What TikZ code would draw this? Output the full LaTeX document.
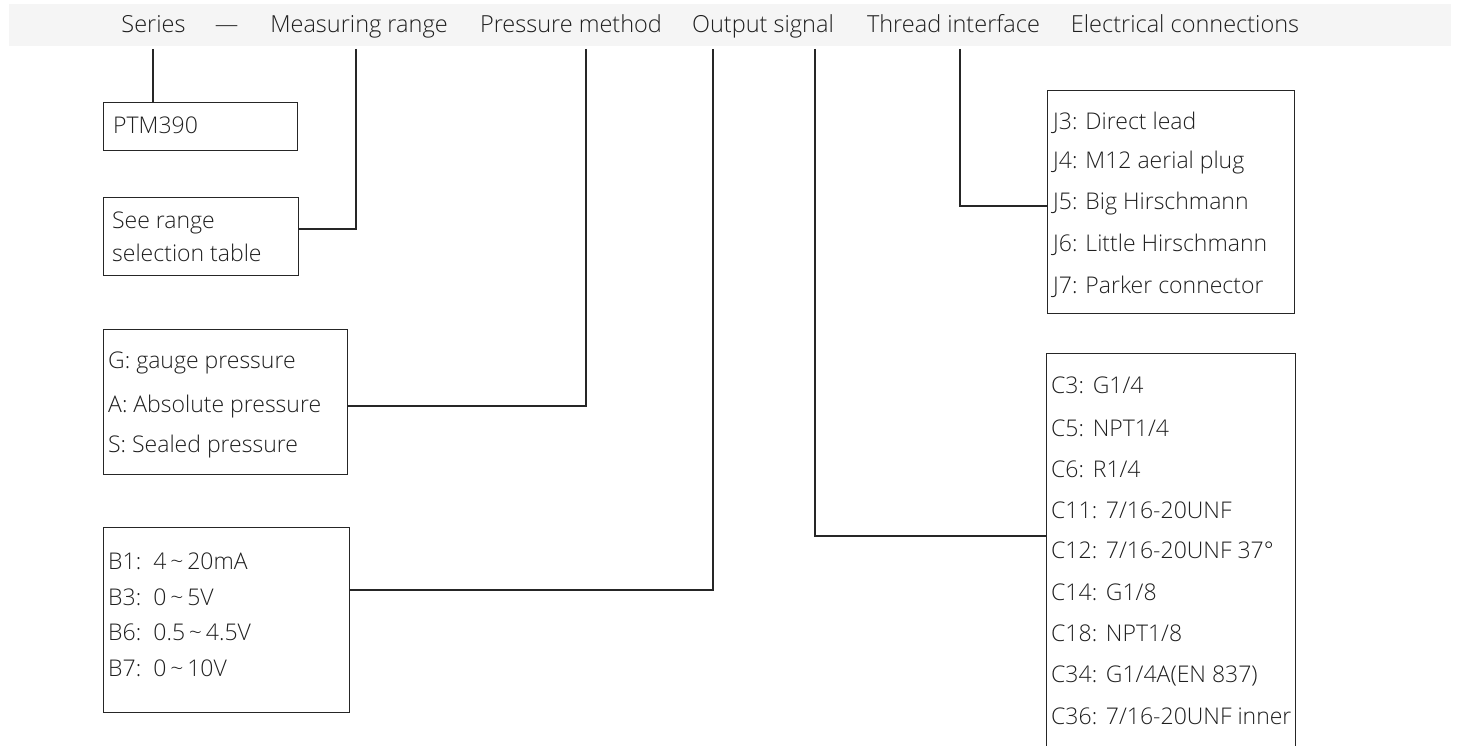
\documentclass[tikz,border=0pt]{standalone}
\usepackage{fontspec}
\setmainfont{Open Sans}[UprightFont={* Light}]
\newcommand{\fcol}{:\hspace{0.38em}}
\newcommand{\tld}{\,\textasciitilde\,}
\begin{document}
\begin{tikzpicture}[x=1pt,y=-1pt,
  txt/.style={anchor=base west,inner sep=0pt,font=\fontsize{23}{28}\selectfont,text=black!88},
  htxt/.style={anchor=base,inner sep=0pt,font=\fontsize{23.5}{28}\selectfont,text=black!88},
  box/.style={draw=black!85,line width=1.2pt,anchor=north west,inner sep=0pt},
  conn/.style={draw=black!85,line width=1.2pt}]
\useasboundingbox (0,0) rectangle (1458,746);
% header band
\node[fill=black!4,anchor=north west,inner sep=0pt,minimum width=1442pt,minimum height=42pt] (hdr) at (9,4) {};
\node[htxt] (hser) at (153.5,33) {Series};
\node[htxt] (hdash) at (226.5,33) {—};
\node[htxt] (hmr) at (359,33) {Measuring range};
\node[htxt] (hpm) at (571,33) {Pressure method};
\node[htxt] (hos) at (763,33) {Output signal};
\node[htxt] (hti) at (953.5,33) {Thread interface};
\node[htxt] (hec) at (1185,33) {Electrical connections};
% boxes
\node[box,minimum width=194pt,minimum height=48pt] (ptm) at (103,102) {};
\node[txt] (ptmt) at (113,134) {PTM390};
\node[box,minimum width=195pt,minimum height=78pt] (rng) at (103,197) {};
\node[txt] (rng1) at (112,228) {See range};
\node[txt] (rng2) at (112,261) {selection table};
\node[box,minimum width=244pt,minimum height=145pt] (prs) at (103,329) {};
\node[txt] (prs1) at (108,368) {G: gauge pressure};
\node[txt] (prs2) at (108,412) {A: Absolute pressure};
\node[txt] (prs3) at (108,452) {S: Sealed pressure};
\node[box,minimum width=246pt,minimum height=185pt] (out) at (103,527) {};
\node[txt] (out1) at (108,569) {B1\fcol\hspace{0.15em}4\tld 20mA};
\node[txt] (out2) at (108,605) {B3\fcol\hspace{0.15em}0\tld 5V};
\node[txt] (out3) at (108,640) {B6\fcol\hspace{0.15em}0.5\tld 4.5V};
\node[txt] (out4) at (108,676) {B7\fcol\hspace{0.15em}0\tld 10V};
\node[box,minimum width=247pt,minimum height=223pt] (jbx) at (1047,90) {};
\node[txt] (j3) at (1053,130) {J3: Direct lead};
\node[txt] (j4) at (1053,169) {J4: M12 aerial plug};
\node[txt] (j5) at (1053,209) {J5: Big Hirschmann};
\node[txt] (j6) at (1053,251) {J6: Little Hirschmann};
\node[txt] (j7) at (1053,293) {J7: Parker connector};
\node[box,minimum width=249pt,minimum height=420pt] (cbx) at (1046,353) {};
\node[txt] (c3) at (1051,393) {C3\fcol G1/4};
\node[txt] (c5) at (1051,436) {C5\fcol NPT1/4};
\node[txt] (c6) at (1051,477) {C6\fcol R1/4};
\node[txt] (c11) at (1051,518) {C11\fcol 7/16-20UNF};
\node[txt] (c12) at (1051,558) {C12\fcol 7/16-20UNF 37°};
\node[txt] (c14) at (1051,600) {C14\fcol G1/8};
\node[txt] (c18) at (1051,641) {C18\fcol NPT1/8};
\node[txt] (c34) at (1051,682) {C34\fcol G1/4A(EN 837)};
\node[txt] (c36) at (1051,724) {C36\fcol 7/16-20UNF inner};
% connectors
\coordinate (t1) at (153,49);
\draw[conn] (t1) -- (t1 |- ptm.north);
\coordinate (t2) at (356,49); \coordinate (k2) at (356,229);
\draw[conn] (t2) -- (k2) -- (k2 -| rng.east);
\coordinate (t3) at (586,49); \coordinate (k3) at (586,406);
\draw[conn] (t3) -- (k3) -- (k3 -| prs.east);
\coordinate (t4) at (713,49); \coordinate (k4) at (713,590);
\draw[conn] (t4) -- (k4) -- (k4 -| out.east);
\coordinate (t5) at (815,49); \coordinate (k5) at (815,536);
\draw[conn] (t5) -- (k5) -- (k5 -| cbx.west);
\coordinate (t6) at (960,49); \coordinate (k6) at (960,206);
\draw[conn] (t6) -- (k6) -- (k6 -| jbx.west);
\end{tikzpicture}
\end{document}
